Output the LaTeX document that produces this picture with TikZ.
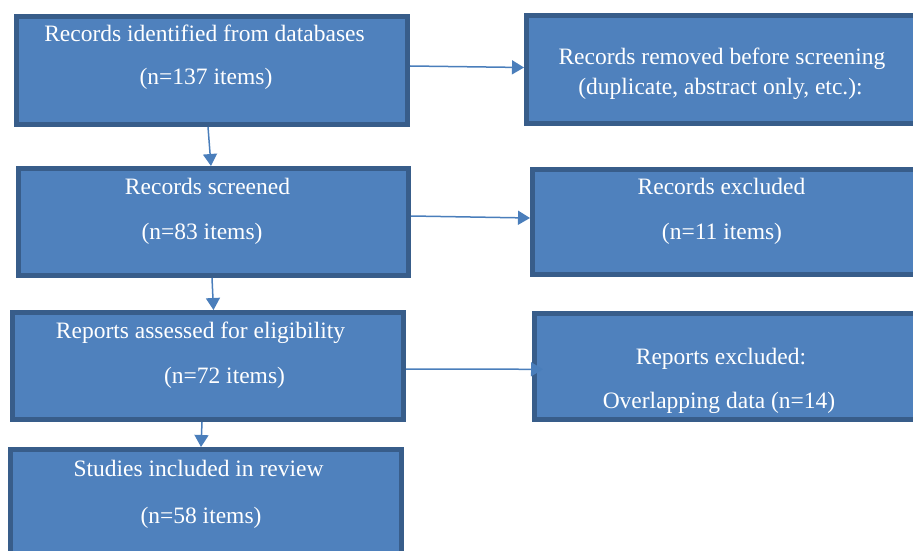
\documentclass[tikz,border=0pt]{standalone}
\usepackage{fontspec}
\setmainfont{Liberation Serif}
\newfontfamily\flowfont{Liberation Serif}
\usetikzlibrary{arrows.meta, positioning, calc}

\definecolor{boxfill}{HTML}{4F81BD}
\definecolor{boxline}{HTML}{385D8A}
\definecolor{flowline}{HTML}{4A7EBB}

\begin{document}
\begin{tikzpicture}[x=1pt, y=-1pt, line join=miter]
	
	%======================
	% STYLES
	%======================
	\tikzset{
		stage/.style={draw=boxline, line width=5pt, fill=boxfill, inner sep=0pt},
		txt/.style={text=white, anchor=base, inner sep=0pt, font=\flowfont\fontsize{23.5pt}{28pt}\selectfont},
		flow/.style={draw=flowline, line width=1.5pt, -{Triangle[length=12pt, width=14pt]}}
	}
	
	% page frame (right hand boxes run off the page)
	\clip (0,0) rectangle (913,551);
	
	%======================
	% LEFT COLUMN
	%======================
	\node[stage, minimum width=391pt, minimum height=108pt] (b1) at (212,70.5) {};
	\node[stage, minimum width=390pt, minimum height=107pt] (b2) at (213.5,222) {};
	\node[stage, minimum width=391pt, minimum height=107pt] (b3) at (208,366) {};
	\node[stage, minimum width=391pt, minimum height=150.5pt] (b4) at (206,524.75) {};
	
	%======================
	% RIGHT COLUMN
	%======================
	\node[stage, minimum width=403.5pt, minimum height=108pt] (r1) at (728.25,69.5) {};
	\node[stage, minimum width=397.5pt, minimum height=105pt] (r2) at (731.25,222) {};
	\node[stage, minimum width=395.5pt, minimum height=106pt] (r3) at (732.25,366.5) {};
	
	%======================
	% TEXTS
	%======================
	\node[txt] (t1a) at (204.5,42) {Records identified from databases};
	\node[txt] (t1b) at (206,84.5) {(n=137 items)};
	\node[txt] (t2a) at (207.5,194) {Records screened};
	\node[txt] (t2b) at (202,239) {(n=83 items)};
	\node[txt] (t3a) at (200.5,338) {Reports assessed for eligibility};
	\node[txt] (t3b) at (224.5,383) {(n=72 items)};
	\node[txt] (t4a) at (198.5,476) {Studies included in review};
	\node[txt] (t4b) at (201,523) {(n=58 items)};
	
	\node[txt] (s1a) at (722,64) {Records removed before screening};
	\node[txt] (s1b) at (720.5,94) {(duplicate, abstract only, etc.):};
	\node[txt] (s2a) at (721.5,194) {Records excluded};
	\node[txt] (s2b) at (722,239) {(n=11 items)};
	\node[txt] (s3a) at (721,364) {Reports excluded:};
	\node[txt] (s3b) at (719,408) {Overlapping data (n=14)};
	
	%======================
	% CONNECTORS
	%======================
	% down the main column
	\draw[flow] ([xshift=-4pt]b1.south) -- ([xshift=-2.5pt]b2.north);
	\draw[flow] ([xshift=-1.5pt]b2.south) -- ([xshift=5.5pt]b3.north);
	\draw[flow] ([xshift=-6pt]b3.south) -- ([xshift=-5pt]b4.north);
	
	% side exits
	\draw[flow] ([yshift=4.5pt]b1.east) -- ([yshift=2pt]r1.west);
	\draw[flow] ([yshift=6pt]b2.east) -- ([yshift=4pt]r2.west);
	\draw[flow] ([yshift=-3pt]b3.east) -- ([xshift=11pt, yshift=-2.8pt]r3.west);
	
\end{tikzpicture}
\end{document}
